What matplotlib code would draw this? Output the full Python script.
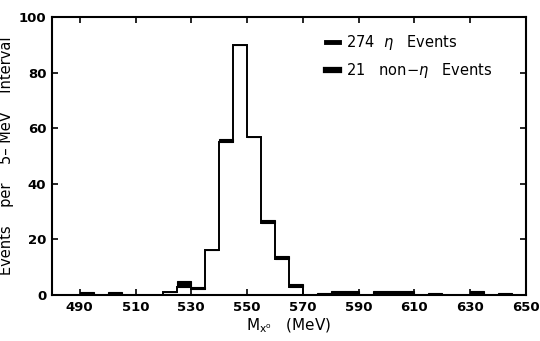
import numpy as np
import matplotlib
matplotlib.use('Agg')
import matplotlib.pyplot as plt
from matplotlib.lines import Line2D

# 5-MeV bins
bin_edges = np.arange(480, 655, 5)
# eta events per bin (outline histogram), by left edge
eta_left = [520, 525, 530, 535, 540, 545, 550, 555, 560, 565]
eta_counts = [1, 3, 2, 16, 55, 90, 57, 26, 13, 3]
# non-eta events per bin (black, stacked on top)
non_left = [490, 500, 525, 530, 540, 555, 560, 565, 575, 580, 585,
            595, 600, 605, 615, 630, 640]
non_counts = [1, 1, 2, 1, 1, 1, 1, 1, 0.8, 1.5, 1.5,
              1.5, 1.5, 1.5, 0.8, 1.6, 0.8]

x_ticks = [490, 510, 530, 550, 570, 590, 610, 630, 650]
y_ticks = [0, 20, 40, 60, 80, 100]

plt.rcParams['font.family'] = 'DejaVu Sans'
fig = plt.figure(figsize=(5.4, 3.41), dpi=100)
ax = fig.add_axes([0.096, 0.135, 0.878, 0.815])

eta_full = np.zeros(len(bin_edges) - 1)
for l, c in zip(eta_left, eta_counts):
    eta_full[(l - 480) // 5] = c
non_full = np.zeros(len(bin_edges) - 1)
for l, c in zip(non_left, non_counts):
    non_full[(l - 480) // 5] = c

# eta outline
ax.stairs(eta_full, bin_edges, color='black', linewidth=1.4)
# non-eta filled on top
ax.bar(bin_edges[:-1], non_full, width=5, bottom=eta_full, align='edge',
       color='black', edgecolor='black', linewidth=0.8)

ax.set_xlim(480, 650)
ax.set_ylim(0, 100)
ax.set_xticks(x_ticks)
ax.set_yticks(y_ticks)
ax.tick_params(direction='in', top=True, right=True, length=4, width=1.2,
               labelsize=9.5, pad=4)
for lab in ax.get_xticklabels() + ax.get_yticklabels():
    lab.set_fontweight('bold')
for s in ax.spines.values():
    s.set_linewidth(1.5)

ax.set_ylabel('Events    per    5– MeV    Interval', fontsize=10.5, labelpad=3)
ax.set_xlabel(r'M$_{\mathrm{x}^{\mathrm{o}}}$   (MeV)', fontsize=11, labelpad=2)

handles = [Line2D([0], [0], color='black', lw=3.5),
           Line2D([0], [0], color='black', lw=4.5)]
ax.legend(handles, [r'274  $\eta$   Events', r'21   non$-\eta$   Events'],
          loc='upper left', bbox_to_anchor=(0.55, 0.99), frameon=False,
          fontsize=10.5, handlelength=0.9, handletextpad=0.5, labelspacing=0.6)

plt.savefig('out.png', dpi=100)
